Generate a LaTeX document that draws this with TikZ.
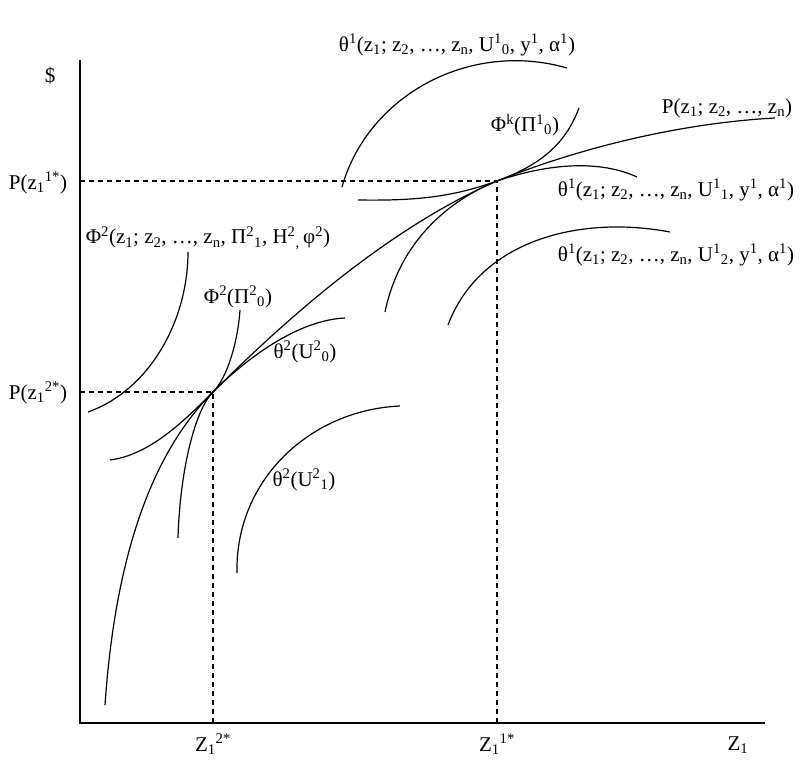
\documentclass[tikz,border=0pt]{standalone}
\usepackage{fontspec}
\setmainfont{Liberation Serif}
\usepackage{tikz}
\usetikzlibrary{positioning}

\begin{document}
\begin{tikzpicture}[x=1pt, y=-1pt,
        curve/.style={line width=1.2pt},
        guide/.style={line width=1.1pt, dash pattern=on 5pt off 4pt},
        lbl/.style={inner sep=0pt, font=\fontsize{21}{24}\selectfont}]
        \useasboundingbox (0,0) rectangle (808,768);

        % axes
        \coordinate (o) at (80,723);
        \coordinate (ytop) at (80,60);
        \coordinate (xend) at (765,723);
        \draw[line width=1.3pt] (ytop) -- (o) -- (xend);

        % tangency points
        \coordinate (t1) at (497,181);
        \coordinate (t2) at (213,392);

        \draw[guide] (t1 -| o) -- (t1) -- (t1 |- o);
        \draw[guide] (t2 -| o) -- (t2) -- (t2 |- o);

        % hedonic price function
        \draw[curve] (105,705) .. controls (115,560) and (150,455) .. (t2)
            .. controls (295,310) and (395,225) .. (t1)
            .. controls (600,140) and (700,122) .. (775,118);

        % bid curves of type 1
        \draw[curve] (342,187) .. controls (368,95) and (470,40) .. (567,68);
        \draw[curve] (358,200) .. controls (420,201) and (455,196) .. (t1)
            .. controls (550,163) and (600,160) .. (637,177);
        \draw[curve] (448,325) .. controls (480,240) and (580,215) .. (670,232);

        % offer curve k
        \draw[curve] (385,312) .. controls (400,240) and (450,200) .. (t1)
            .. controls (540,165) and (565,145) .. (579,108);

        % type 2
        \draw[curve] (88,412) .. controls (150,390) and (188,320) .. (188,252);
        \draw[curve] (110,460) .. controls (150,455) and (185,420) .. (t2)
            .. controls (250,355) and (300,320) .. (345,318);
        \draw[curve] (178,538) .. controls (180,470) and (195,410) .. (t2)
            .. controls (228,377) and (238,340) .. (240,310);
        \draw[curve] (237,573) .. controls (235,480) and (310,410) .. (400,406);

        % axis labels
        \node[lbl] (dollar) at (50,76) {\$};
        \node[lbl] (pz11) at (38,183) {P(z\textsubscript{1}\textsuperscript{1*})};
        \node[lbl] (pz12) at (38,393) {P(z\textsubscript{1}\textsuperscript{2*})};
        \node[lbl] (z12) at (213,744) {Z\textsubscript{1}\textsuperscript{2*}};
        \node[lbl] (z11) at (497,744) {Z\textsubscript{1}\textsuperscript{1*}};
        \node[lbl] (z1) at (738,745) {Z\textsubscript{1}};

        % curve labels
        \node[lbl] (th10) at (457,45)
        {θ\textsuperscript{1}(z\textsubscript{1}; z\textsubscript{2}, …, z\textsubscript{n}, U\textsuperscript{1}\textsubscript{0}, y\textsuperscript{1}, α\textsuperscript{1})};
        \node[lbl] (price) at (727,108)
        {P(z\textsubscript{1}; z\textsubscript{2}, …, z\textsubscript{n})};
        \node[lbl] (phik) at (525,125)
        {Φ\textsuperscript{k}(Π\textsuperscript{1}\textsubscript{0})};
        \node[lbl] (th11) at (676,190)
        {θ\textsuperscript{1}(z\textsubscript{1}; z\textsubscript{2}, …, z\textsubscript{n}, U\textsuperscript{1}\textsubscript{1}, y\textsuperscript{1}, α\textsuperscript{1})};
        \node[lbl] (th12) at (676,255)
        {θ\textsuperscript{1}(z\textsubscript{1}; z\textsubscript{2}, …, z\textsubscript{n}, U\textsuperscript{1}\textsubscript{2}, y\textsuperscript{1}, α\textsuperscript{1})};
        \node[lbl] (phi2) at (208,238)
        {Φ\textsuperscript{2}(z\textsubscript{1}; z\textsubscript{2}, …, z\textsubscript{n}, Π\textsuperscript{2}\textsubscript{1}, H\textsuperscript{2}\textsubscript{,}\,φ\textsuperscript{2})};
        \node[lbl] (phi20) at (238,297)
        {Φ\textsuperscript{2}(Π\textsuperscript{2}\textsubscript{0})};
        \node[lbl] (th20) at (305,352)
        {θ\textsuperscript{2}(U\textsuperscript{2}\textsubscript{0})};
        \node[lbl] (th21) at (304,480)
        {θ\textsuperscript{2}(U\textsuperscript{2}\textsubscript{1})};
\end{tikzpicture}
\end{document}
